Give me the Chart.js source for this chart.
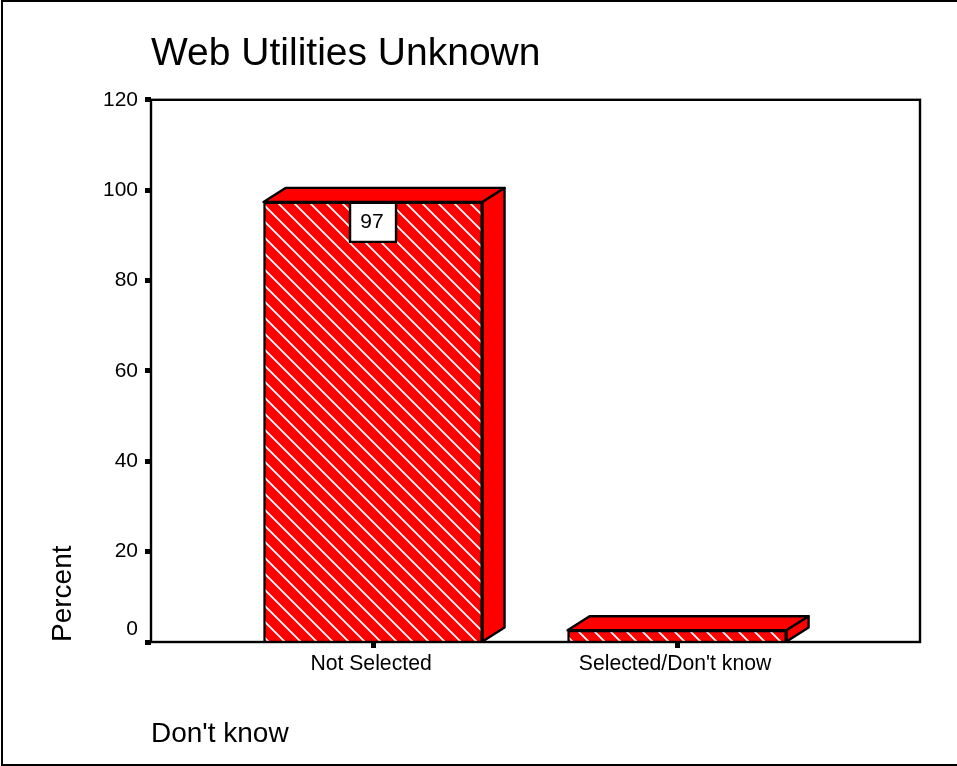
<!DOCTYPE html>
<html>
<head>
<meta charset="utf-8">
<title>Web Utilities Unknown</title>
<script src="https://cdn.jsdelivr.net/npm/chart.js@4"></script>
<style>
    html, body { margin: 0; padding: 0; background: #fff; }
    canvas { display: block; }
</style>
</head>
<body>
<canvas id="myChart" width="957" height="766"></canvas>
<script>
// Data
const categories = ['Not Selected', "Selected/Don't know"];
const positions = [1, 2];
const percents = [97.4, 2.6];
const barLabels = ['97', ''];
const yTicks = [0, 20, 40, 60, 80, 100, 120];

const fontName = '"Liberation Sans", Arial, sans-serif';
const depthX = 22;
const depthY = 14;
const lineW = 2.4;

// White diagonal stripes on red for the front of the bars
function makeHatch() {
    const size = 16;
    const tile = document.createElement('canvas');
    tile.width = size;
    tile.height = size;
    const c = tile.getContext('2d');
    c.fillStyle = '#ff0000';
    c.fillRect(0, 0, size, size);
    c.strokeStyle = '#ffffff';
    c.lineWidth = 1.8;
    c.beginPath();
    for (let k = -2; k <= 1; k++) {
        const x0 = 11 + k * size;
        c.moveTo(x0 - 4, -4);
        c.lineTo(x0 + size + 4, size + 4);
    }
    c.stroke();
    return c.createPattern(tile, 'repeat');
}

function face(ctx, points) {
    ctx.beginPath();
    points.forEach((p, i) => (i ? ctx.lineTo(p[0], p[1]) : ctx.moveTo(p[0], p[1])));
    ctx.closePath();
    ctx.fill();
    ctx.stroke();
}

// Page frame and plot frame
const framePlugin = {
    id: 'frame',
    beforeDraw(chart) {
        const ctx = chart.ctx;
        ctx.save();
        ctx.fillStyle = '#fff';
        ctx.fillRect(0, 0, chart.width, chart.height);
        ctx.strokeStyle = '#000';
        ctx.lineWidth = 2;
        ctx.strokeRect(2, 1, chart.width + 10, chart.height - 2);
        ctx.restore();
    },
    afterDraw(chart) {
        const ctx = chart.ctx;
        const a = chart.chartArea;
        ctx.save();
        ctx.strokeStyle = '#000';
        ctx.lineWidth = lineW;
        ctx.strokeRect(a.left, a.top, a.right - a.left, a.bottom - a.top);
        ctx.restore();
    },
};

// Top and side faces of the 3D bars, then the value boxes
const bar3dPlugin = {
    id: 'bar3d',
    afterDatasetsDraw(chart) {
        const ctx = chart.ctx;
        ctx.save();
        ctx.strokeStyle = '#000';
        ctx.lineWidth = lineW;
        ctx.lineJoin = 'round';
        chart.getDatasetMeta(0).data.forEach((bar, i) => {
            const left = bar.x - bar.width / 2;
            const right = bar.x + bar.width / 2;
            ctx.fillStyle = '#ff0000';
            face(ctx, [[left, bar.y], [left + depthX, bar.y - depthY], [right + depthX, bar.y - depthY], [right, bar.y]]);
            face(ctx, [[right, bar.y], [right + depthX, bar.y - depthY], [right + depthX, bar.base - depthY], [right, bar.base]]);
            if (barLabels[i]) {
                ctx.fillStyle = '#fff';
                ctx.fillRect(bar.x - 23, bar.y + 1, 46, 39);
                ctx.strokeRect(bar.x - 23, bar.y + 1, 46, 39);
                ctx.fillStyle = '#000';
                ctx.font = '21px ' + fontName;
                ctx.textAlign = 'center';
                ctx.textBaseline = 'middle';
                ctx.fillText(barLabels[i], bar.x - 1, bar.y + 20);
            }
        });
        ctx.restore();
    },
};

const ctx = document.getElementById('myChart').getContext('2d');
const myChart = new Chart(ctx, {
    type: 'bar',
    data: {
        datasets: [{
            data: positions.map((x, i) => ({ x: x, y: percents[i] })),
            backgroundColor: makeHatch(),
            borderColor: '#000',
            borderWidth: lineW,
            barThickness: 219,
        }],
    },
    plugins: [framePlugin, bar3dPlugin],
    options: {
        responsive: false,
        animation: false,
        layout: { padding: { left: 0, right: 37, top: 0, bottom: 15 } },
        plugins: {
            legend: { display: false },
            tooltip: { enabled: false },
            title: {
                display: true,
                text: 'Web Utilities Unknown',
                align: 'start',
                fullSize: false,
                color: '#000',
                font: { family: fontName, size: 39, weight: 'normal', lineHeight: 1.2 },
                padding: { top: 31, bottom: 22 },
            },
            subtitle: {
                display: true,
                text: "Don't know",
                position: 'bottom',
                align: 'start',
                fullSize: false,
                color: '#000',
                font: { family: fontName, size: 28, weight: 'normal', lineHeight: 1.2 },
                padding: 0,
            },
        },
        scales: {
            x: {
                type: 'linear',
                offset: false,
                min: 0.2697,
                max: 2.799,
                afterBuildTicks: (scale) => {
                    scale.ticks = positions.map((v) => ({ value: v }));
                },
                afterFit: (scale) => {
                    scale.height = 75.4;
                },
                grid: { offset: false, drawOnChartArea: false, tickLength: 6, tickWidth: 5, tickColor: '#000' },
                border: { display: false },
                ticks: {
                    color: '#000',
                    font: { family: fontName, size: 21.2 },
                    padding: 3,
                    labelOffset: -2,
                    maxRotation: 0,
                    autoSkip: false,
                    callback: (value) => categories[positions.indexOf(value)],
                },
            },
            y: {
                min: 0,
                max: 120,
                afterBuildTicks: (scale) => {
                    scale.ticks = yTicks.map((v) => ({ value: v }));
                },
                afterFit: (scale) => {
                    scale.width = 151;
                },
                grid: { drawOnChartArea: false, tickLength: 6, tickWidth: 5, tickColor: '#000' },
                border: { display: false },
                title: {
                    display: true,
                    text: 'Percent',
                    align: 'start',
                    color: '#000',
                    font: { family: fontName, size: 28, lineHeight: 1.2 },
                    padding: { top: 46, bottom: 0 },
                },
                ticks: {
                    color: '#000',
                    font: { family: fontName, size: 21, lineHeight: '26px' },
                    padding: 7,
                    // the 0 label sits higher than its tick
                    callback: (value) => (value === 0 ? ['0', ''] : String(value)),
                },
            },
        },
    },
});
</script>
</body>
</html>
